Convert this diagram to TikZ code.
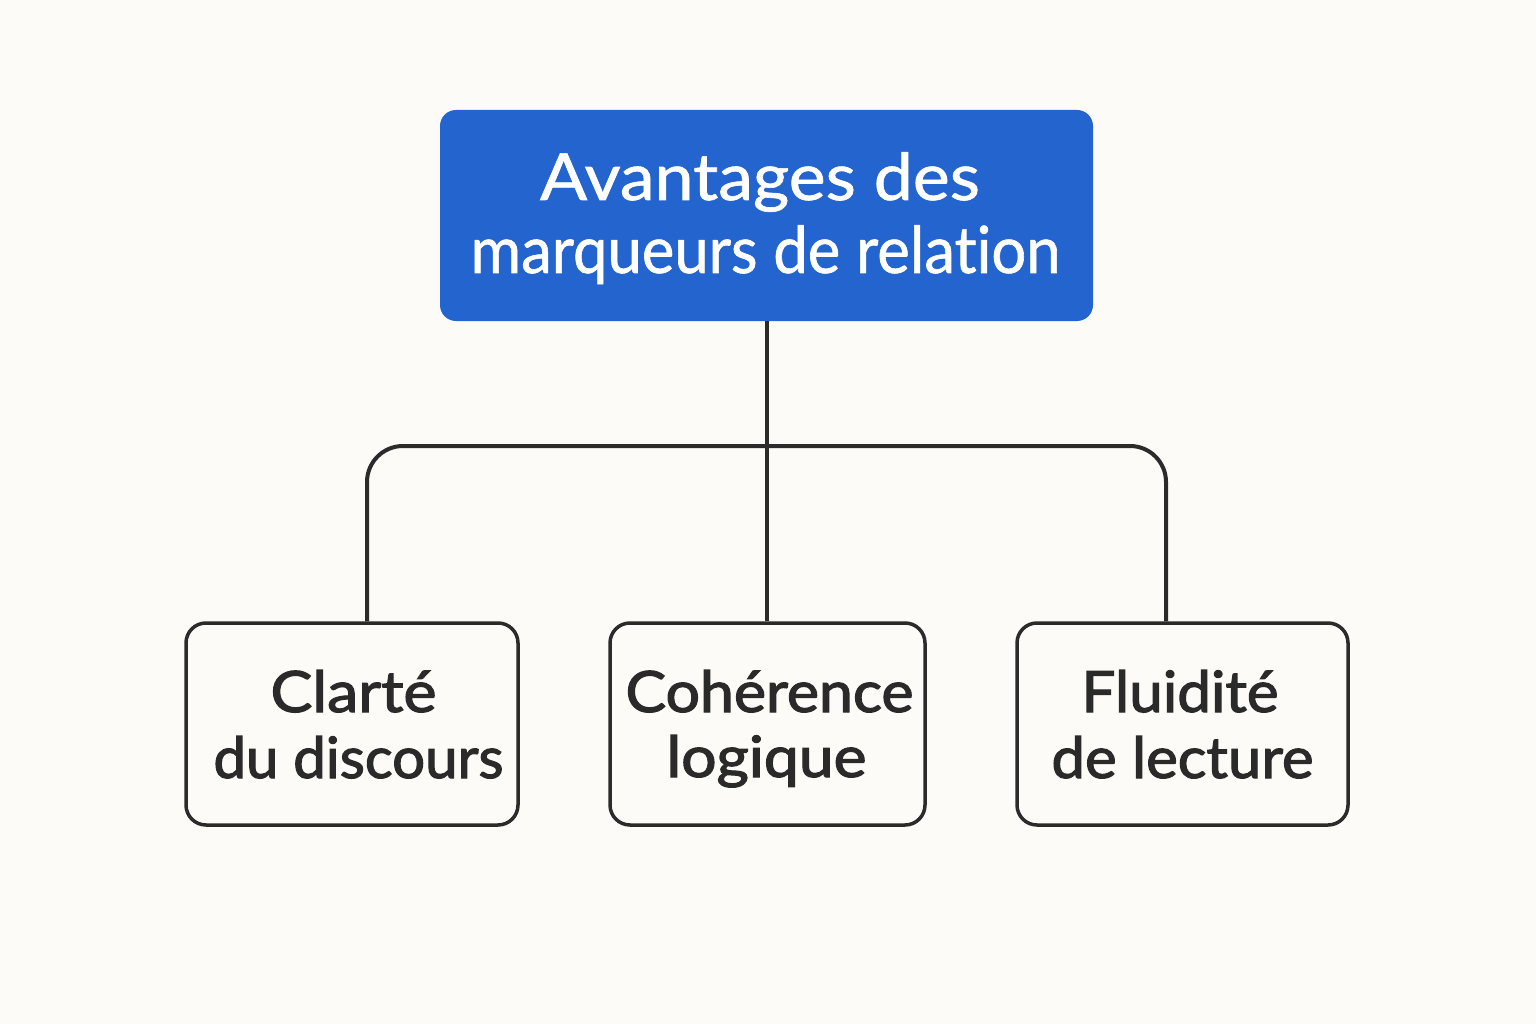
\documentclass[tikz,border=0pt]{standalone}
\usepackage{fontspec}
\usepackage{graphicx}
\setmainfont[Ligatures=NoCommon]{Lato}
\newfontfamily\topfont[FakeBold=1.0,Ligatures=NoCommon]{Lato}
\newfontfamily\leaffont[FakeBold=2.0,Ligatures=NoCommon]{Lato}
\newcommand\fitw[2]{\resizebox{#1}{\height}{#2}}
\definecolor{bgcol}{RGB}{252,251,248}
\definecolor{topblue}{RGB}{36,100,206}
\definecolor{linedark}{RGB}{43,43,43}
\definecolor{textdark}{RGB}{42,42,42}
\begin{document}
\begin{tikzpicture}[x=1pt,y=-1pt,
  topbox/.style={fill=topblue, draw=none, rounded corners=16pt, inner sep=0pt},
  leaf/.style={draw=linedark, fill=bgcol, line width=3.5pt, rounded corners=20pt, inner sep=0pt},
  ttxt/.style={text=white, inner sep=0pt, anchor=base, font=\topfont\fontsize{65}{65}\selectfont},
  ltxt/.style={text=textdark, inner sep=0pt, anchor=base, font=\leaffont\fontsize{57}{57}\selectfont},
  conn/.style={draw=linedark, line width=4pt}]
\fill[bgcol] (0,0) rectangle (1536,1024);
\useasboundingbox (0,0) rectangle (1536,1024);
% boxes
\node[topbox, minimum width=653pt, minimum height=211pt] (top) at (766.5,215.5) {};
\node[leaf, minimum width=332pt, minimum height=202pt] (b1) at (352,724) {};
\node[leaf, minimum width=315pt, minimum height=202pt] (b2) at (767.5,724) {};
\node[leaf, minimum width=331pt, minimum height=202pt] (b3) at (1182.5,724) {};
% connectors
\coordinate (hl) at (367,446);
\coordinate (hr) at (1166,446);
\draw[conn] (top.south) -- (top.south |- b2.north);
\draw[conn, rounded corners=36pt] (b1.north -| hl) -- (hl) -- (hr) -- (b3.north -| hr);
% texts
\node[ttxt] (t1) at (760,200) {\fitw{440pt}{Avantages des}};
\node[ttxt] (t2) at (765.5,273) {\fitw{590pt}{marqueurs de relation}};
\node[ltxt] (l1a) at (353.5,712) {\fitw{166pt}{Clarté}};
\node[ltxt] (l1b) at (358.5,778) {\fitw{290pt}{du discours}};
\node[ltxt] (l2a) at (769.5,712) {\fitw{288pt}{Cohérence}};
\node[ltxt] (l2b) at (766.5,777) {\fitw{200pt}{logique}};
\node[ltxt] (l3a) at (1180,712) {\fitw{197pt}{Fluidité}};
\node[ltxt] (l3b) at (1182.5,778) {\fitw{262pt}{de lecture}};
\end{tikzpicture}
\end{document}
